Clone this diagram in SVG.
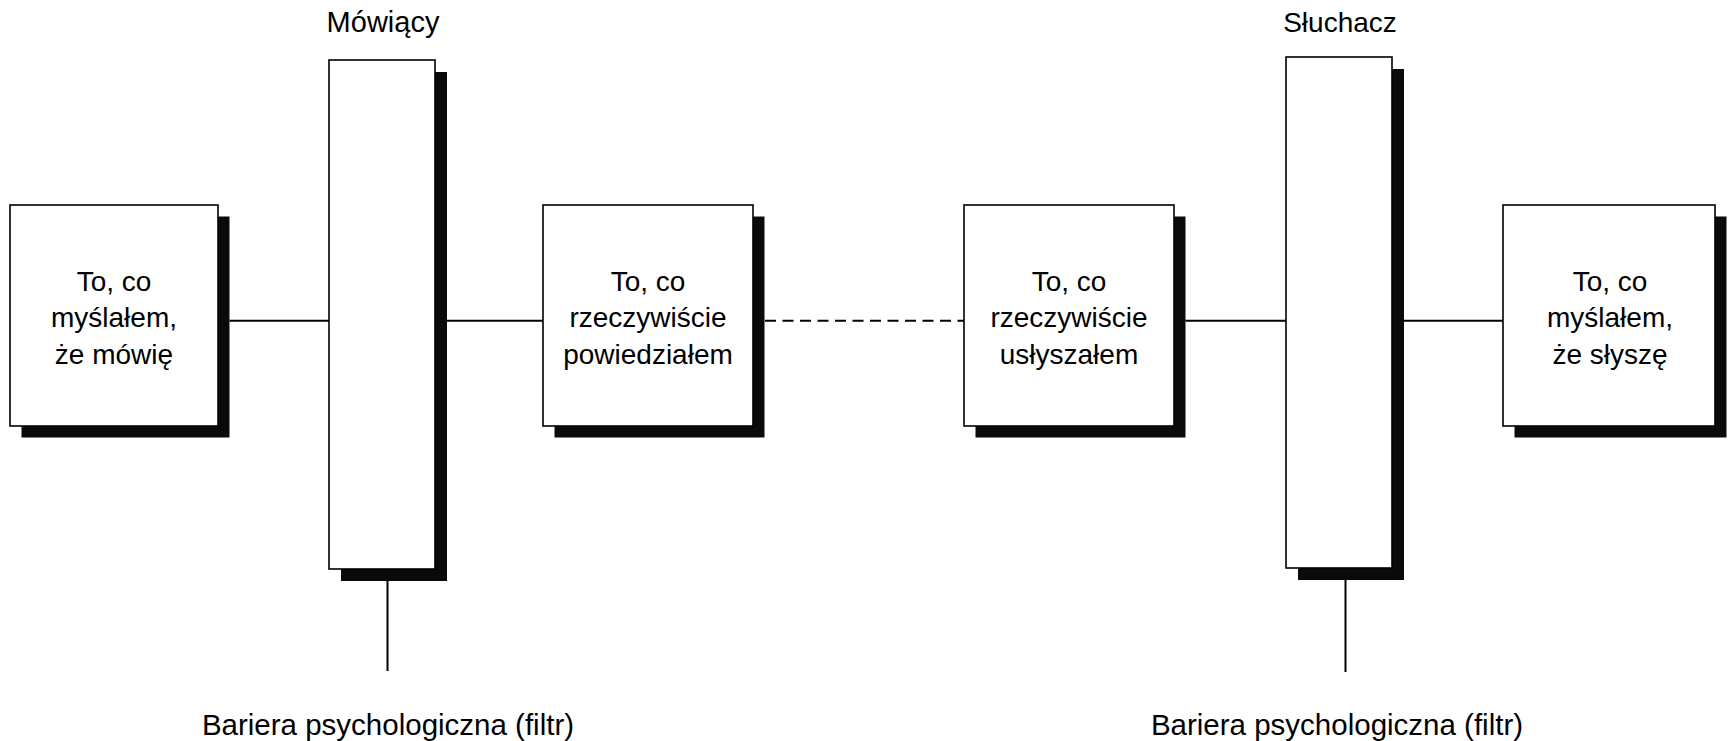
<svg xmlns="http://www.w3.org/2000/svg" width="1730" height="741" viewBox="0 0 1730 741">
<style>
  .box { fill: #ffffff; stroke: #000000; stroke-width: 1.6; }
  .shadow { fill: #0a0a0a; stroke: none; }
  .conn { stroke: #000000; stroke-width: 2; fill: none; }
  .dash { stroke-dasharray: 11 6.5; }
  text { font-family: "Liberation Sans", Arial, sans-serif; font-size: 28px; fill: #000000; text-anchor: middle; }
  .lbl { font-size: 29.5px; }
  .hdr { font-size: 29px; }
</style>
<rect width="1730" height="741" fill="#ffffff"/>

<g id="connectors">
  <line class="conn" x1="229.5" y1="320.7" x2="329" y2="320.7"/>
  <line class="conn" x1="446.5" y1="320.7" x2="543" y2="320.7"/>
  <line class="conn dash" x1="765" y1="320.7" x2="964" y2="320.7"/>
  <line class="conn" x1="1185.5" y1="320.7" x2="1286" y2="320.7"/>
  <line class="conn" x1="1403" y1="320.7" x2="1503" y2="320.7"/>
  <line class="conn" x1="387.5" y1="581" x2="387.5" y2="671"/>
  <line class="conn" x1="1345.5" y1="580" x2="1345.5" y2="672"/>
</g>

<g id="box1">
  <rect class="shadow" x="21.5" y="216.5" width="208" height="221"/>
  <rect class="box" x="10" y="205" width="208" height="221"/>
  <text x="114" y="290.5">To, co</text>
  <text x="114" y="327">myślałem,</text>
  <text x="114" y="363.5">że mówię</text>
</g>

<g id="barrier1">
  <rect class="shadow" x="341" y="72" width="106" height="509"/>
  <rect class="box" x="329" y="60" width="106" height="509"/>
  <text class="hdr" x="383" y="32">Mówiący</text>
  <text class="lbl" x="388" y="735">Bariera psychologiczna (filtr)</text>
</g>

<g id="box2">
  <rect class="shadow" x="554.5" y="216.5" width="210" height="221"/>
  <rect class="box" x="543" y="205" width="210" height="221"/>
  <text x="648" y="290.5">To, co</text>
  <text x="648" y="327">rzeczywiście</text>
  <text x="648" y="363.5">powiedziałem</text>
</g>

<g id="box3">
  <rect class="shadow" x="975.5" y="216.5" width="210" height="221"/>
  <rect class="box" x="964" y="205" width="210" height="221"/>
  <text x="1069" y="290.5">To, co</text>
  <text x="1069" y="327">rzeczywiście</text>
  <text x="1069" y="363.5">usłyszałem</text>
</g>

<g id="barrier2">
  <rect class="shadow" x="1298" y="69" width="106" height="511"/>
  <rect class="box" x="1286" y="57" width="106" height="511"/>
  <text x="1340" y="32">Słuchacz</text>
  <text class="lbl" x="1337" y="735">Bariera psychologiczna (filtr)</text>
</g>

<g id="box4">
  <rect class="shadow" x="1514.5" y="216.5" width="212" height="221"/>
  <rect class="box" x="1503" y="205" width="212" height="221"/>
  <text x="1610" y="290.5">To, co</text>
  <text x="1610" y="327">myślałem,</text>
  <text x="1610" y="363.5">że słyszę</text>
</g>
</svg>
